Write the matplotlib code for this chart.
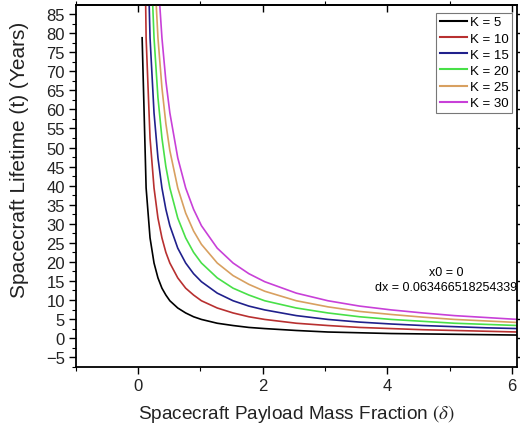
import matplotlib
matplotlib.use("Agg")
import matplotlib.pyplot as plt
from matplotlib.ticker import MultipleLocator

plt.rcParams['font.family'] = ['Liberation Sans', 'DejaVu Sans']
plt.rcParams['mathtext.fontset'] = 'stix'

# payload mass fraction, sampled on the dx grid shown in the chart
delta = [0.063, 0.127, 0.190, 0.254, 0.317, 0.381, 0.444, 0.508, 0.635, 0.762,
         0.889, 1.015, 1.269, 1.523, 1.777, 2.031, 2.539, 3.046, 3.554, 4.062,
         4.570, 5.077, 5.585, 6.093]

# lifetime (years)
t_k5 = [78.8, 39.4, 26.3, 19.7, 15.8, 13.1, 11.3, 9.8, 7.9, 6.6, 5.6, 4.9,
        3.9, 3.3, 2.8, 2.5, 2.0, 1.6, 1.4, 1.2, 1.1, 1.0, 0.9, 0.8]
t_k10 = [157.6, 78.8, 52.5, 39.4, 31.5, 26.3, 22.5, 19.7, 15.8, 13.1, 11.3, 9.8,
         7.9, 6.6, 5.6, 4.9, 3.9, 3.3, 2.8, 2.5, 2.2, 2.0, 1.8, 1.6]
t_k15 = [236.4, 118.2, 78.8, 59.1, 47.3, 39.4, 33.8, 29.5, 23.6, 19.7, 16.9, 14.8,
         11.8, 9.8, 8.4, 7.4, 5.9, 4.9, 4.2, 3.7, 3.3, 3.0, 2.7, 2.5]
t_k20 = [315.2, 157.6, 105.1, 78.8, 63.1, 52.5, 45.0, 39.4, 31.5, 26.3, 22.5, 19.7,
         15.8, 13.1, 11.3, 9.8, 7.9, 6.6, 5.6, 4.9, 4.4, 3.9, 3.6, 3.3]
t_k25 = [394.0, 197.0, 131.3, 98.5, 78.8, 65.7, 56.3, 49.2, 39.4, 32.8, 28.1, 24.6,
         19.7, 16.4, 14.1, 12.3, 9.8, 8.2, 7.0, 6.2, 5.5, 4.9, 4.5, 4.1]
t_k30 = [472.8, 236.4, 157.6, 118.2, 94.6, 78.8, 67.5, 59.1, 47.3, 39.4, 33.8, 29.5,
         23.6, 19.7, 16.9, 14.8, 11.8, 9.8, 8.4, 7.4, 6.6, 5.9, 5.4, 4.9]

labels = ['K = 5', 'K = 10', 'K = 15', 'K = 20', 'K = 25', 'K = 30']
colors = ['#000000', '#b83030', '#20208c', '#48e048', '#d8a060', '#c840d8']

fig = plt.figure(figsize=(5.2, 4.27), dpi=100)
ax = fig.add_axes([0.146, 0.138, 0.848, 0.848])

series = [t_k5, t_k10, t_k15, t_k20, t_k25, t_k30]
for vals, lab, col in zip(series, labels, colors):
    ax.plot(delta, vals, color=col, lw=1.2, label=lab)

ax.set_xlim(-1, 6.08)
ax.set_ylim(-7.6, 87.4)
ax.xaxis.set_major_locator(MultipleLocator(2))
ax.xaxis.set_minor_locator(MultipleLocator(1))
ax.yaxis.set_major_locator(MultipleLocator(5))
ax.yaxis.set_minor_locator(MultipleLocator(2.5))

ax.tick_params(axis='both', which='major', labelsize=12, direction='out',
               length=5, width=1, pad=3, labelcolor='#222222')
ax.tick_params(axis='both', which='minor', direction='out', length=3, width=0.8)
ax.tick_params(axis='y', which='major', right=True)
for sp in ax.spines.values():
    sp.set_linewidth(1.3)

# top axis: ticks pointing inward, no labels
top = ax.secondary_xaxis('top')
top.xaxis.set_major_locator(MultipleLocator(2))
top.xaxis.set_minor_locator(MultipleLocator(1))
top.tick_params(which='major', direction='in', length=5, width=1, labeltop=False)
top.tick_params(which='minor', direction='out', length=3, width=0.8)
top.spines['top'].set_linewidth(1.3)

ax.set_xlabel('Spacecraft Payload Mass Fraction ' + r'$(\delta)$', fontsize=13.7,
              labelpad=6, color='#222222')
ax.set_ylabel('Spacecraft Lifetime (t) (Years)', fontsize=15, color='#222222')
ax.yaxis.set_label_coords(-0.107, 0.575)

ax.text(4.95, 17.3, 'x0 = 0', fontsize=9, ha='center', va='center')
ax.text(4.95, 13.5, 'dx = 0.063466518254339', fontsize=9, ha='center', va='center')

leg = ax.legend(loc='upper right', bbox_to_anchor=(0.989, 0.978), fontsize=9.5,
                frameon=True, fancybox=False, edgecolor='#555555',
                handlelength=2.1, handletextpad=0.2, labelspacing=0.3,
                borderpad=0.25, borderaxespad=0.0)
leg.get_frame().set_linewidth(0.8)
for line in leg.get_lines():
    line.set_linewidth(1.5)

fig.savefig('out.png', dpi=100)
